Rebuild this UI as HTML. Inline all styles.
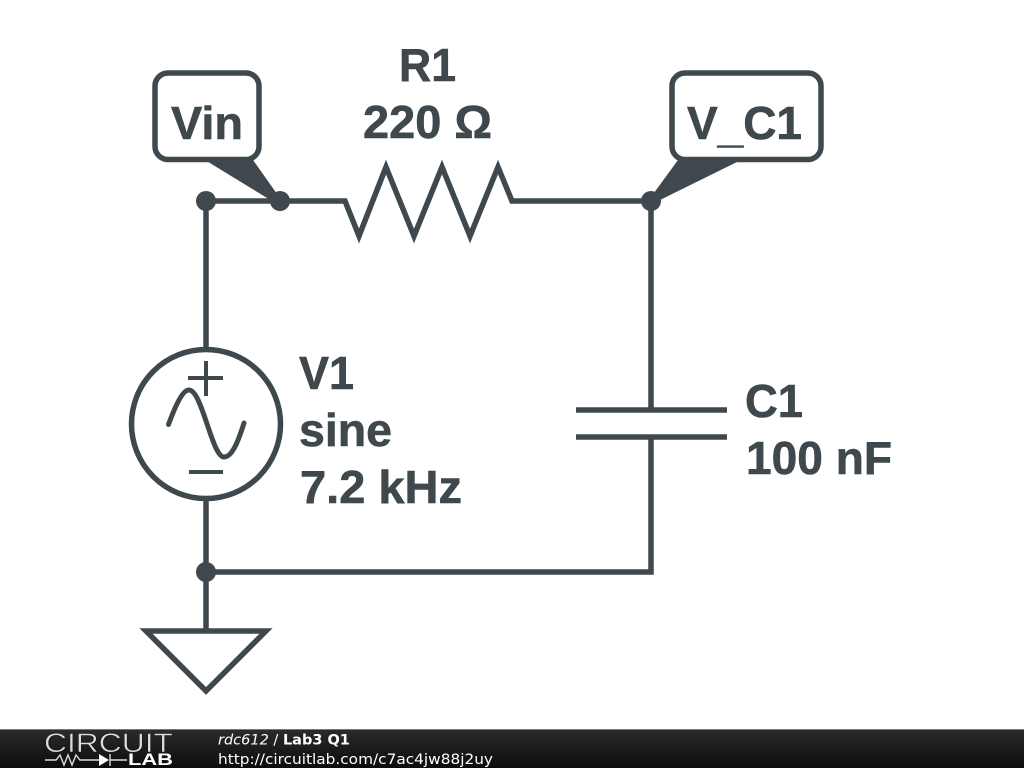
<!DOCTYPE html>
<html><head><meta charset="utf-8"><style>
html,body{margin:0;padding:0;background:#fff;width:1024px;height:768px;overflow:hidden}
svg{display:block}
text{font-family:"Liberation Sans",sans-serif;font-weight:bold;fill:#3e484d;font-size:46px;stroke:#3e484d;stroke-width:.6}
.f{font-family:"DejaVu Sans",sans-serif;font-size:14.5px;fill:#fff;font-weight:normal;stroke:none}
</style></head><body>
<svg width="1024" height="768" viewBox="0 0 1024 768" xmlns="http://www.w3.org/2000/svg">
<defs><linearGradient id="g" x1="0" y1="0" x2="0" y2="1"><stop offset="0" stop-color="#2c2c2c"/><stop offset="1" stop-color="#0c0c0c"/></linearGradient></defs>
<rect width="1024" height="768" fill="#fff"/>
<g fill="none" stroke="#3e484d" stroke-width="5.5" stroke-linejoin="miter">
<path d="M206 201H345L359 236L386 167L414 236L442 167L470 236L498 167L512 201H651V408M651 438V572H206M206 201V349M206 499V631"/>
<path d="M576 410H727M576 437H727"/>
<circle cx="206" cy="424" r="74.5"/>
<path d="M146 631H266L206 691Z"/>
<rect x="155" y="73" width="104" height="86.5" rx="13" fill="#fff"/>
<rect x="672" y="73" width="149" height="86.5" rx="13" fill="#fff"/>
<path d="M188 378H223M206 361V396M189 472H223" stroke-width="4"/>
<path d="M168.500 424.500C176 404 183 390 189 390C202 390 212 457 224 457C232 457 238 442 244 423" stroke-width="5" stroke-linecap="round"/>
</g>
<g fill="#3e484d">
<path d="M205 160L253 160L282 201L272 201Z"/>
<path d="M678 160L741 160L658 201L651 197Z"/>
<circle cx="206" cy="201" r="10"/>
<circle cx="280" cy="201" r="10"/>
<circle cx="651" cy="201" r="10"/>
<circle cx="206" cy="572" r="10"/>
</g>
<text x="399" y="81" textLength="57" lengthAdjust="spacingAndGlyphs">R1</text>
<text x="363" y="138" textLength="129" lengthAdjust="spacingAndGlyphs">220 Ω</text>
<text x="171" y="139" textLength="72" lengthAdjust="spacingAndGlyphs">Vin</text>
<text x="687" y="139" textLength="115" lengthAdjust="spacingAndGlyphs">V<tspan dy="3">_</tspan><tspan dy="-3">C1</tspan></text>
<text x="299" y="389" textLength="55" lengthAdjust="spacingAndGlyphs">V1</text>
<text x="299" y="446" textLength="93" lengthAdjust="spacingAndGlyphs">sine</text>
<text x="300" y="503" textLength="162" lengthAdjust="spacingAndGlyphs">7.2 kHz</text>
<text x="745" y="417" textLength="58" lengthAdjust="spacingAndGlyphs">C1</text>
<text x="746" y="474" textLength="146" lengthAdjust="spacingAndGlyphs">100 nF</text>
<rect y="729" width="1024" height="39" fill="url(#g)"/>
<rect y="729" width="1024" height="1" fill="#777"/>
<text x="44" y="752" style="font-size:26.500px;font-weight:normal;fill:#ddd;stroke:#111;stroke-width:.5" textLength="129" lengthAdjust="spacingAndGlyphs">CIRCUIT</text>
<path d="M45 760H56L60 755L64 765L68 755L72 765L76 755L80 760H99M110 760H127M110 754V766" stroke="#ddd" stroke-width="1.4" fill="none"/>
<path d="M99 754L109 760L99 766Z" fill="#fff"/>
<text x="128" y="765" style="font-size:16.500px;fill:#fff;stroke:none" textLength="45" lengthAdjust="spacingAndGlyphs">LAB</text>
<text class="f" x="218" y="744.500"><tspan font-style="italic">rdc612</tspan> / <tspan font-weight="bold">Lab3 Q1</tspan></text>
<text class="f" x="218" y="764" textLength="275" lengthAdjust="spacingAndGlyphs">http://circuitlab.com/c7ac4jw88j2uy</text>
</svg>
</body></html>
